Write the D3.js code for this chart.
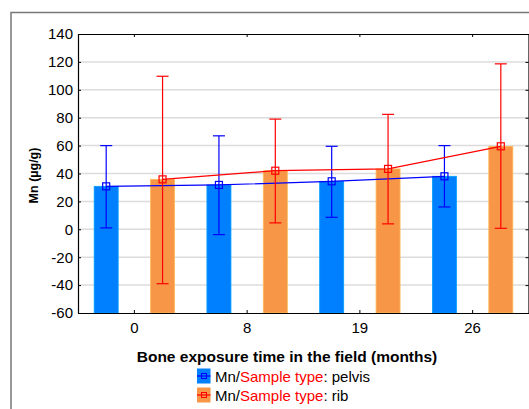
<!DOCTYPE html>
<html>
<head>
<meta charset="utf-8">
<script src="https://cdn.jsdelivr.net/npm/d3@7"></script>
<style>
  body { margin: 0; background: #fff; }
  text { font-family: "Liberation Sans", Arial, sans-serif; }
</style>
</head>
<body>
<div id="chart"></div>
<script>
// exposure time categories (months)
const categories = ["0", "8", "19", "26"];
const seriesNames = ["pelvis", "rib"];

// Mn means and error bar limits
const pelvisMean = [30.8, 31.8, 34.4, 38.0];
const pelvisHi = [60.0, 67.0, 59.5, 60.0];
const pelvisLo = [1.0, -3.8, 8.6, 16.0];
const ribMean = [35.8, 42.0, 43.3, 59.5];
const ribHi = [109.7, 79.0, 82.4, 118.6];
const ribLo = [-39.0, 4.6, 3.9, 0.7];

const yTicks = [-60, -40, -20, 0, 20, 40, 60, 80, 100, 120, 140];

const series = [
    { name: "pelvis", mean: pelvisMean, hi: pelvisHi, lo: pelvisLo, bar: "#0080ff", line: "#0000ff" },
    { name: "rib", mean: ribMean, hi: ribHi, lo: ribLo, bar: "#f79646", line: "#ff0000" }
];

const width = 529, height = 409;
const plot = { left: 78, right: 529, top: 34, bottom: 313 };

const svg = d3.select("#chart").append("svg")
    .attr("width", width)
    .attr("height", height);

// outer frame
svg.append("rect")
    .attr("x", 11).attr("y", 12.5)
    .attr("width", 600).attr("height", 500)
    .attr("fill", "none")
    .attr("stroke", "#777")
    .attr("stroke-width", 1.5);

const x = d3.scaleBand()
    .domain(categories)
    .range([plot.left, plot.right]);

const offset = d3.scalePoint()
    .domain(seriesNames)
    .range([-x.bandwidth() * 0.25, x.bandwidth() * 0.25]);

const y = d3.scaleLinear()
    .domain([-60, 140])
    .range([plot.bottom, plot.top]);

const barW = x.bandwidth() * 0.213;

// grid lines
svg.append("g")
    .selectAll("line")
    .data(yTicks.slice(1, -1))
    .enter().append("line")
    .attr("x1", plot.left).attr("x2", plot.right)
    .attr("y1", d => y(d)).attr("y2", d => y(d))
    .attr("stroke", "#dcdcdc")
    .attr("stroke-width", 1.5);

// bars
series.forEach(s => {
    svg.append("g")
        .selectAll("rect")
        .data(categories)
        .enter().append("rect")
        .attr("x", (c) => x(c) + x.bandwidth() / 2 + offset(s.name) - barW / 2)
        .attr("y", (c, i) => y(s.mean[i]))
        .attr("width", barW)
        .attr("height", (c, i) => y(-60) - y(s.mean[i]))
        .attr("fill", s.bar)
        .attr("stroke", d3.color(s.bar).brighter(0.6))
        .attr("stroke-width", 0.8);
});

// lines, error bars, markers
series.forEach(s => {
    const cx = c => x(c) + x.bandwidth() / 2 + offset(s.name);
    const line = d3.line()
        .x(c => cx(c))
        .y((c, i) => y(s.mean[i]));

    svg.append("path")
        .datum(categories)
        .attr("d", line)
        .attr("fill", "none")
        .attr("stroke", s.line)
        .attr("stroke-width", 1.2);

    const g = svg.append("g")
        .attr("stroke", s.line)
        .attr("stroke-width", 1.2)
        .attr("fill", "none");

    categories.forEach((c, i) => {
        const px = cx(c);
        g.append("line")
            .attr("x1", px).attr("x2", px)
            .attr("y1", y(s.hi[i])).attr("y2", y(s.lo[i]));
        [s.hi[i], s.lo[i]].forEach(v => {
            g.append("line")
                .attr("x1", px - 6).attr("x2", px + 6)
                .attr("y1", y(v)).attr("y2", y(v));
        });
        g.append("rect")
            .attr("x", px - 3.5).attr("y", y(s.mean[i]) - 3.5)
            .attr("width", 7).attr("height", 7);
    });
});

// axes (ticks pointing inward)
const axisFont = "15px";
const yAxis = svg.append("g")
    .attr("transform", `translate(${plot.left},0)`)
    .call(d3.axisLeft(y).tickValues(yTicks).tickFormat(d => String(d))
        .tickSizeInner(-3).tickSizeOuter(0).tickPadding(5));
yAxis.selectAll("text").style("font-size", axisFont).attr("fill", "#000");

svg.append("g")
    .attr("transform", `translate(${plot.right - 0.5},0)`)
    .call(d3.axisRight(y).tickValues(yTicks).tickSizeInner(-3).tickSizeOuter(0).tickFormat(""));

const xAxis = svg.append("g")
    .attr("transform", `translate(0,${plot.bottom})`)
    .call(d3.axisBottom(x).tickSizeInner(-3).tickSizeOuter(0).tickPadding(9));
xAxis.selectAll("text").style("font-size", axisFont).attr("fill", "#000");

svg.append("g")
    .attr("transform", `translate(0,${plot.top})`)
    .call(d3.axisTop(x).tickSizeInner(-3).tickSizeOuter(0).tickFormat(""));

svg.selectAll(".domain").attr("stroke", "#000").attr("stroke-width", 1.2);
svg.selectAll(".tick line").attr("stroke", "#000");

// axis titles
svg.append("text")
    .attr("transform", `translate(38,${(plot.top + plot.bottom) / 2 + 2}) rotate(-90)`)
    .attr("text-anchor", "middle")
    .style("font-size", "12.5px")
    .style("font-weight", "bold")
    .text("Mn (µg/g)");

svg.append("text")
    .attr("x", 287)
    .attr("y", 362)
    .attr("text-anchor", "middle")
    .style("font-size", "15.5px")
    .style("font-weight", "bold")
    .text("Bone exposure time in the field (months)");

// legend
const legend = svg.append("g");
series.forEach((s, i) => {
    const ly = 376 + i * 19;
    legend.append("rect")
        .attr("x", 197).attr("y", ly - 7.5)
        .attr("width", 13.5).attr("height", 15)
        .attr("fill", s.bar);
    legend.append("line")
        .attr("x1", 197).attr("x2", 210.5)
        .attr("y1", ly).attr("y2", ly)
        .attr("stroke", s.line).attr("stroke-width", 1.2);
    legend.append("rect")
        .attr("x", 201.5).attr("y", ly - 2.5)
        .attr("width", 5).attr("height", 5)
        .attr("fill", "none")
        .attr("stroke", s.line).attr("stroke-width", 1);
    const t = legend.append("text")
        .attr("x", 215).attr("y", ly + 6)
        .style("font-size", "15px");
    t.append("tspan").attr("fill", "#000").text("Mn/");
    t.append("tspan").attr("fill", "#ff0000").text("Sample type");
    t.append("tspan").attr("fill", "#000").text(": " + s.name);
});
</script>
</body>
</html>
